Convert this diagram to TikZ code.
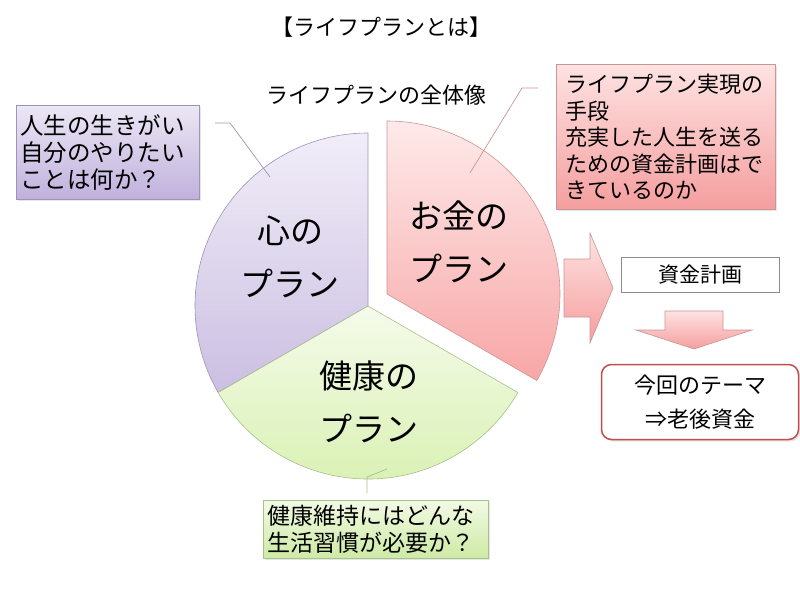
\documentclass[tikz,border=0pt]{standalone}
\usepackage{fontspec}
\setmainfont{Noto Sans CJK JP}
\usetikzlibrary{shadows}
\definecolor{puA}{HTML}{F1EDF8}
\definecolor{puB}{HTML}{CBBFE2}
\definecolor{puE}{HTML}{9F93B8}
\definecolor{piA}{HTML}{FEEAEA}
\definecolor{piB}{HTML}{F8A6A6}
\definecolor{piE}{HTML}{C99595}
\definecolor{grA}{HTML}{F5FBEA}
\definecolor{grB}{HTML}{D6F0AE}
\definecolor{grE}{HTML}{A9BF8C}
\definecolor{pbA}{HTML}{ECE7F5}
\definecolor{pbB}{HTML}{C0B1DC}
\definecolor{kbA}{HTML}{FEE2E2}
\definecolor{kbB}{HTML}{F59E9E}
\definecolor{gbA}{HTML}{F2FAE4}
\definecolor{gbB}{HTML}{CDEAA5}
\definecolor{themeE}{HTML}{C0504D}
\begin{document}
\begin{tikzpicture}[x=1pt,y=-1pt,
  sector/.style={line width=0.6pt},
  seclabel/.style={font=\fontsize{33}{53}\selectfont, align=center, inner sep=0pt},
  callbox/.style={anchor=north west, draw, line width=0.6pt, align=left,
    inner ysep=0pt, drop shadow={opacity=0.2, shadow xshift=2pt, shadow yshift=-2pt}},
  leader/.style={line width=0.7pt},
  blockarrow/.style={draw=piE, line width=0.6pt, top color=kbA, bottom color=kbB}
]
\useasboundingbox (0,0) rectangle (800,600);

% titles
\node[font=\fontsize{22}{26}\selectfont] (title) at (381,27) {【ライフプランとは】};
\node[font=\fontsize{22}{26}\selectfont] (sub) at (376,95) {ライフプランの全体像};

% pie
\coordinate (C) at (368,306);
\coordinate (P) at (387,294);
\path[sector, draw=puE, top color=puA, bottom color=puB]
  (C) -- ++(-90:173) arc[start angle=-90, end angle=-210, radius=173] -- cycle;
\path[sector, draw=grE, top color=grA, bottom color=grB]
  (C) -- ++(-210:173) arc[start angle=-210, end angle=-330, radius=173] -- cycle;
\path[sector, draw=piE, top color=piA, bottom color=piB]
  (P) -- ++(-90:173) arc[start angle=-90, end angle=30, radius=173] -- cycle;

\node[seclabel] (kokoro) at (290,257) {心の\\プラン};
\node[seclabel] (okane) at (459,242) {お金の\\プラン};
\node[seclabel] (kenko) at (369,402) {健康の\\プラン};

% callout boxes
\node[callbox, draw=puE, top color=pbA, bottom color=pbB,
  minimum width=183pt, minimum height=94pt, text width=175pt, inner xsep=4pt,
  font=\fontsize{23.5}{27}\selectfont] (pbox) at (16,105)
  {人生の生きがい\\自分のやりたい\\ことは何か？};
\node[callbox, draw=piE, top color=kbA, bottom color=kbB,
  minimum width=219pt, minimum height=145pt, text width=201pt, inner xsep=9pt,
  font=\fontsize{22}{26.5}\selectfont] (kbox) at (556,64)
  {ライフプラン実現の\\手段\\充実した人生を送る\\ための資金計画はで\\きているのか};
\node[callbox, draw=grE, top color=gbA, bottom color=gbB,
  minimum width=225pt, minimum height=58pt, text width=217pt, inner xsep=4pt,
  font=\fontsize{23}{26.5}\selectfont] (gbox) at (263,500)
  {健康維持にはどんな\\生活習慣が必要か？};

% leader lines
\coordinate (pl1) at (215,123); \coordinate (pl2) at (230,123); \coordinate (pl3) at (270,177);
\draw[leader, draw=puE] (pl1) -- (pl2) -- (pl3);
\coordinate (kl1) at (538,88); \coordinate (kl2) at (522,88); \coordinate (kl3) at (470,173);
\draw[leader, draw=piE] (kl1) -- (kl2) -- (kl3);
\coordinate (gl1) at (367,493); \coordinate (gl2) at (367,477); \coordinate (gl3) at (387,469);
\draw[leader, draw=grE] (gl1) -- (gl2) -- (gl3);

% right block arrow
\path[blockarrow] (564,259) -- (590,259) -- (590,233) -- (613,288) -- (590,343)
  -- (590,317) -- (564,317) -- cycle;

% plan box
\node[draw=black!45, fill=white, line width=0.6pt, minimum width=158pt, minimum height=35pt,
  inner sep=0pt, font=\fontsize{21}{25}\selectfont] (plan) at (700,274.5) {資金計画};

% down block arrow
\path[blockarrow] (665,311) -- (723,311) -- (723,330) -- (752,330) -- (694,349)
  -- (636,330) -- (665,330) -- cycle;

% theme box
\node[draw=themeE, fill=white, line width=1.5pt, rounded corners=10pt,
  minimum width=197pt, minimum height=75pt, inner sep=0pt, align=center,
  drop shadow={opacity=0.2, shadow xshift=2pt, shadow yshift=-2pt},
  font=\fontsize{22}{34}\selectfont] (theme) at (700,402) {今回のテーマ\\⇒老後資金};
\end{tikzpicture}
\end{document}
